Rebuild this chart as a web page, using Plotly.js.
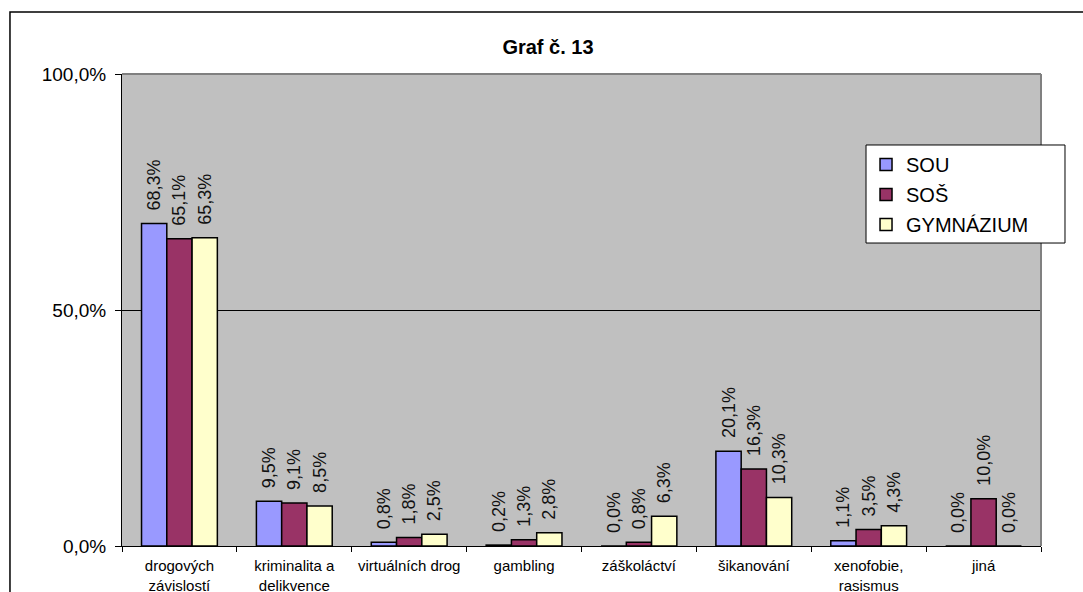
<!DOCTYPE html>
<html>
<head>
<meta charset="utf-8">
<script src="https://cdn.plot.ly/plotly-3.0.1.min.js"></script>
<style>html,body{margin:0;padding:0;background:#fff;}#chart{width:1083px;height:592px;}</style>
</head>
<body>
<div id="chart"></div>
<script>
const categories = ["drogových<br>závislostí", "kriminalita a<br>delikvence", "virtuálních drog", "gambling", "záškoláctví", "šikanování", "xenofobie,<br>rasismus", "jiná"];
const seriesNames = ["SOU", "SOŠ", "GYMNÁZIUM"];
const sou = [68.3, 9.5, 0.8, 0.2, 0.0, 20.1, 1.1, 0.0];
const sos = [65.1, 9.1, 1.8, 1.3, 0.8, 16.3, 3.5, 10.0];
const gym = [65.3, 8.5, 2.5, 2.8, 6.3, 10.3, 4.3, 0.0];
const colors = ["#9999FF", "#993366", "#FFFFCC"];
const yTicks = [0, 50, 100];
const yTickText = ["0,0%", "50,0%", "100,0%"];

const fmt = v => '\u00a0\u00a0' + v.toFixed(1).replace('.', ',') + '%';
const series = [sou, sos, gym];
const traces = series.map((vals, i) => ({
  type: 'bar',
  name: seriesNames[i],
  x: categories,
  y: vals,
  text: vals.map(fmt),
  textposition: 'outside',
  textangle: -90,
  constraintext: 'none',
  cliponaxis: false,
  textfont: {family: 'Liberation Sans, Arial, sans-serif', size: 18, color: '#111'},
  outsidetextfont: {family: 'Liberation Sans, Arial, sans-serif', size: 18, color: '#111'},
  marker: {color: colors[i], line: {color: '#000', width: 1.5}},
  legendgroup: 'g' + i,
  hoverinfo: 'skip'
}));

const layout = {
  width: 1083, height: 592,
  margin: {l: 122, r: 42, t: 74, b: 46},
  paper_bgcolor: '#ffffff',
  plot_bgcolor: '#C0C0C0',
  font: {family: 'Liberation Sans, Arial, sans-serif', color: '#000'},
  title: {
    text: '<b>Graf č. 13</b>',
    font: {size: 20, color: '#000'},
    x: 0.506, xanchor: 'center', xref: 'container',
    y: 1 - 47/592, yanchor: 'middle', yref: 'container'
  },
  barmode: 'group',
  bargap: 0.34,
  bargroupgap: 0,
  xaxis: {
    type: 'category',
    tickson: 'boundaries',
    ticks: 'outside', ticklen: 5, tickcolor: '#000', tickwidth: 1,
    ticklabelstandoff: 6,
    showline: true, linecolor: '#000', linewidth: 1,
    tickfont: {size: 15},
    showgrid: false, zeroline: false,
    fixedrange: true
  },
  yaxis: {
    range: [0, 100],
    tickmode: 'array',
    tickvals: yTicks,
    ticktext: yTickText,
    ticks: 'outside', ticklen: 6, tickcolor: '#000',
    ticklabelstandoff: 5,
    showline: true, linecolor: '#000', linewidth: 1,
    showgrid: true, gridcolor: '#000', gridwidth: 1,
    zeroline: false,
    tickfont: {size: 19},
    fixedrange: true
  },
  showlegend: true,
  legend: {
    x: 0.8096, y: 0.8496, xanchor: 'left', yanchor: 'top',
    bgcolor: 'rgba(0,0,0,0)', borderwidth: 0,
    font: {size: 20},
    traceorder: 'grouped',
    tracegroupgap: 1,
    itemwidth: 30
  },
  shapes: [
    {type: 'line', xref: 'paper', yref: 'paper', x0: 0, x1: 1, y0: 1, y1: 1, line: {color: '#808080', width: 2}},
    {type: 'line', xref: 'paper', yref: 'paper', x0: 1, x1: 1, y0: 0, y1: 1, line: {color: '#808080', width: 2}},
    {type: 'rect', xref: 'paper', yref: 'paper', x0: 0.8096, x1: 1.0261, y0: 0.6419, y1: 0.8496, fillcolor: '#ffffff', line: {color: '#000', width: 1}, layer: 'above'},
    {type: 'rect', xref: 'paper', yref: 'paper', x0: -0.1219, x1: 1.2, y0: -0.3, y1: 1.1314, line: {color: '#000', width: 1.5}, layer: 'above'}
  ]
};

Plotly.newPlot('chart', traces, layout, {staticPlot: true});
</script>
</body>
</html>
